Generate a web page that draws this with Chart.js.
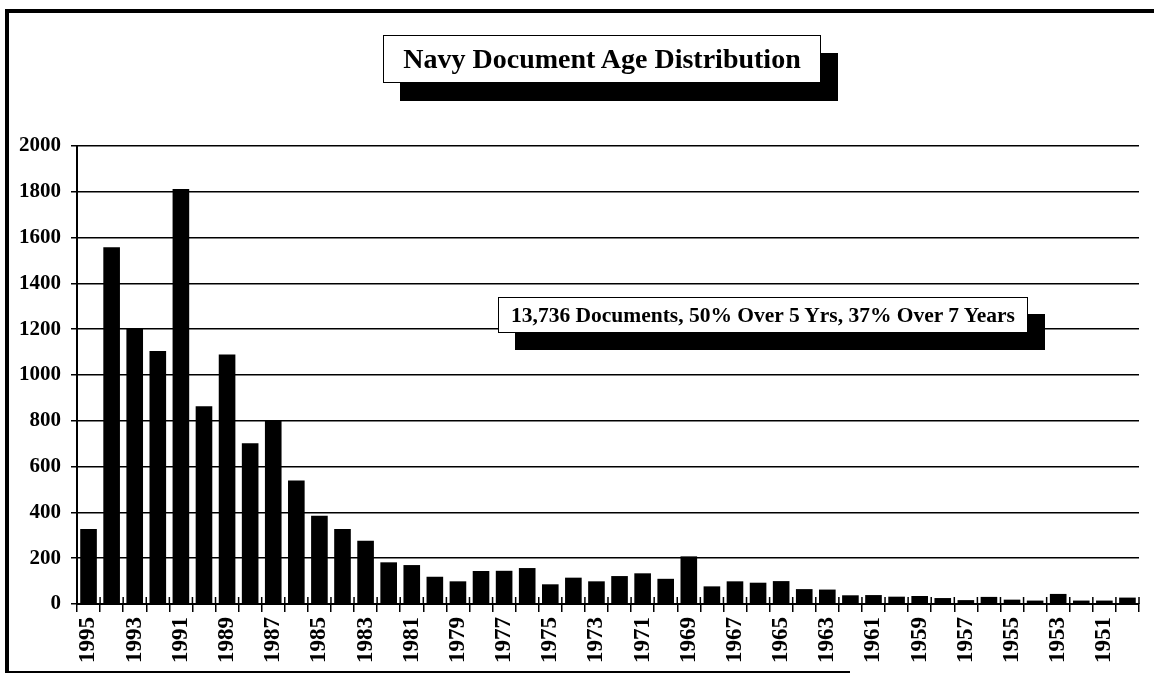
<!DOCTYPE html>
<html>
<head>
<meta charset="utf-8">
<title>Navy Document Age Distribution</title>
<script src="https://cdn.jsdelivr.net/npm/chart.js@4.4.1/dist/chart.umd.min.js"></script>
<style>
  body { margin: 0; background: #fff; }
  #page { position: relative; width: 1154px; height: 675px; overflow: hidden; background: #fff; }
  #wrap { position: absolute; left: 0; top: 0; width: 1154px; height: 675px; }
  .rule { position: absolute; background: #000; }
  .box {
    position: absolute; box-sizing: border-box; background: #fff;
    border: 1.5px solid #000; box-shadow: 17px 18px 0 #000;
    display: flex; align-items: center; justify-content: center;
    font-family: "Liberation Serif", "Times New Roman", serif; font-weight: bold; color: #000;
    white-space: nowrap;
  }
</style>
</head>
<body>
<div id="page">
  <div id="wrap"><canvas id="age-chart"></canvas></div>
  <!-- scanned page frame -->
  <div class="rule" style="left:5px; top:9px; width:4px; height:664px;"></div>
  <div class="rule" style="left:5px; top:9px; width:1149px; height:4px;"></div>
  <div class="rule" style="left:5px; top:671px; width:845px; height:2px;"></div>
  <div class="box" style="left:383px; top:35px; width:438px; height:48px; font-size:28px;">Navy Document Age Distribution</div>
  <div class="box" style="left:498px; top:297px; width:530px; height:36px; font-size:21.5px; box-shadow:17px 17px 0 #000;">13,736 Documents, 50% Over 5 Yrs, 37% Over 7 Years</div>
</div>
<script>
// data
const years = ['1995', '1994', '1993', '1992', '1991', '1990', '1989', '1988', '1987', '1986',
    '1985', '1984', '1983', '1982', '1981', '1980', '1979', '1978', '1977', '1976',
    '1975', '1974', '1973', '1972', '1971', '1970', '1969', '1968', '1967', '1966',
    '1965', '1964', '1963', '1962', '1961', '1960', '1959', '1958', '1957', '1956',
    '1955', '1954', '1953', '1952', '1951', '1950'];
const docCounts = [327, 1558, 1203, 1105, 1812, 863, 1090, 702, 799, 539,
    385, 327, 276, 182, 170, 119, 99, 144, 145, 157,
    86, 115, 99, 122, 134, 110, 208, 77, 99, 93,
    100, 65, 63, 38, 39, 32, 35, 26, 17, 31,
    19, 15, 44, 15, 15, 28];
const yTicks = [0, 200, 400, 600, 800, 1000, 1200, 1400, 1600, 1800, 2000];

const serif = '"Liberation Serif", "Times New Roman", serif';

// category ticks that cross the x axis line (go up into the plot a bit)
const crossTicks = {
    id: 'crossTicks',
    afterDatasetsDraw(chart) {
        const xs = chart.scales.x;
        const area = chart.chartArea;
        const ctx = chart.ctx;
        const n = years.length;
        ctx.save();
        ctx.strokeStyle = '#000';
        ctx.lineWidth = 1.5;
        for (let i = 0; i <= n; i++) {
            let x;
            if (i === 0) x = area.left;
            else if (i === n) x = area.right;
            else x = (xs.getPixelForValue(i - 1) + xs.getPixelForValue(i)) / 2;
            ctx.beginPath();
            ctx.moveTo(x, area.bottom - 7);
            ctx.lineTo(x, area.bottom);
            ctx.stroke();
        }
        ctx.restore();
    }
};

const ctx = document.getElementById('age-chart').getContext('2d');
new Chart(ctx, {
    type: 'bar',
    data: {
        labels: years,
        datasets: [{
            label: 'Documents',
            data: docCounts,
            backgroundColor: '#000',
            borderWidth: 0,
            barPercentage: 0.72,
            categoryPercentage: 1.0
        }]
    },
    options: {
        responsive: true,
        maintainAspectRatio: false,
        animation: false,
        layout: { padding: { top: 146, right: 15, bottom: 0, left: 0 } },
        plugins: {
            legend: { display: false },
            title: { display: false },
            tooltip: { enabled: false }
        },
        scales: {
            x: {
                offset: true,
                grid: { drawOnChartArea: false, offset: true, color: '#000', lineWidth: 1.5, tickLength: 8 },
                border: { display: true, color: '#000', width: 2 },
                ticks: {
                    autoSkip: false,
                    maxRotation: 90,
                    minRotation: 90,
                    padding: 5,
                    color: '#000',
                    font: { family: serif, size: 23, weight: 'bold' },
                    callback: (v, i) => (i % 2 === 0 ? years[i] : '')
                },
                afterFit: s => {
                    s.height = 71;
                    s.paddingLeft = 0;
                    s.paddingRight = 0;
                }
            },
            y: {
                min: 0,
                max: 2000,
                afterBuildTicks: s => { s.ticks = yTicks.map(v => ({ value: v })); },
                grid: { color: '#000', lineWidth: 1.5, tickLength: 6 },
                border: { display: true, color: '#000', width: 2 },
                ticks: {
                    padding: 10,
                    color: '#000',
                    font: { family: serif, size: 21, weight: 'bold' },
                    callback: v => String(v)
                },
                afterFit: s => { s.width = 77; }
            }
        }
    },
    plugins: [crossTicks]
});
</script>
</body>
</html>
